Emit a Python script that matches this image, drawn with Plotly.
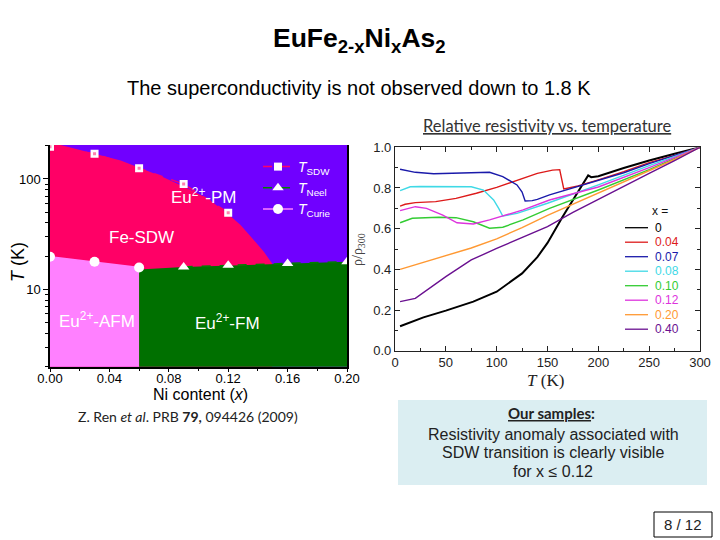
import math
import plotly.graph_objects as go

# ---------------- Phase diagram data (Z. Ren et al.) ----------------
x_sdw = [0.00, 0.03, 0.06, 0.09, 0.12]
t_sdw = [196, 169, 125, 90, 49.5]
x_neel = [0.09, 0.12, 0.16, 0.20]
t_neel = [16.0, 16.6, 17.2, 17.8]
x_curie = [0.00, 0.03, 0.06]
t_curie = [19.8, 17.8, 15.8]

# SDW phase boundary
x_sdw_edge = [0.0, 0.0161, 0.0341, 0.0476, 0.0610, 0.0745, 0.0902, 0.1059, 0.1193, 0.1283, 0.1372, 0.1440, 0.1496]
t_sdw_edge = [215, 190, 165, 147, 125, 106.5, 85.2, 66.8, 48.9, 38.3, 28.0, 21.9, 17.2]
# FM / AFM boundary
x_fm_edge = [0.06, 0.09, 0.12, 0.16, 0.20]
t_fm_edge = [15.2, 16.0, 16.6, 17.2, 17.8]

X_LIM = [0.0, 0.20]
T_LIM = [2.0, 203.0]

# ---------------- Resistivity data ----------------
series_labels = ["0", "0.04", "0.07", "0.08", "0.10", "0.12", "0.20", "0.40"]
series_colors = ["#000000", "#dd1a1a", "#1a1aaa", "#3fd9e6", "#33cc33", "#dd33dd", "#ff9933", "#6a1090"]

T_0 = [5, 18, 28, 50, 77, 100, 125, 140, 150, 165, 180, 190, 193, 200, 225, 250, 275, 300]
r_0 = [0.12, 0.146, 0.164, 0.197, 0.241, 0.29, 0.38, 0.46, 0.53, 0.66, 0.78, 0.862, 0.853, 0.858, 0.898, 0.935, 0.968, 1.0]

T_004 = [5, 10, 20, 30, 40, 60, 80, 100, 120, 140, 155, 160, 162, 166, 180, 200, 225, 250, 275, 300]
r_004 = [0.711, 0.72, 0.728, 0.73, 0.733, 0.749, 0.774, 0.803, 0.839, 0.872, 0.888, 0.892, 0.89, 0.795, 0.81, 0.84, 0.88, 0.925, 0.96, 1.0]

T_007 = [5, 20, 38, 60, 93, 106, 112, 120, 125, 128, 135, 140, 152, 165, 200, 225, 250, 275, 300]
r_007 = [0.892, 0.877, 0.870, 0.874, 0.877, 0.856, 0.84, 0.815, 0.78, 0.736, 0.738, 0.744, 0.766, 0.785, 0.835, 0.875, 0.92, 0.96, 1.0]

T_008 = [5, 15, 25, 40, 60, 75, 87, 97, 102, 106, 120, 150, 200, 250, 300]
r_008 = [0.787, 0.806, 0.807, 0.807, 0.807, 0.806, 0.79, 0.741, 0.70, 0.662, 0.675, 0.725, 0.815, 0.91, 1.0]

T_010 = [5, 17, 43, 60, 77, 93, 106, 126, 152, 200, 250, 300]
r_010 = [0.629, 0.651, 0.656, 0.654, 0.634, 0.602, 0.607, 0.643, 0.70, 0.79, 0.89, 1.0]

T_012 = [5, 20, 31, 47, 61, 77, 93, 126, 152, 200, 250, 300]
r_012 = [0.689, 0.708, 0.70, 0.667, 0.629, 0.623, 0.643, 0.692, 0.741, 0.805, 0.90, 1.0]

T_020 = [5, 25, 50, 75, 100, 125, 150, 175, 200, 225, 250, 275, 300]
r_020 = [0.40, 0.43, 0.465, 0.505, 0.55, 0.605, 0.665, 0.72, 0.775, 0.83, 0.885, 0.94, 1.0]

T_040 = [5, 20, 50, 75, 100, 125, 150, 175, 200, 225, 250, 275, 300]
r_040 = [0.241, 0.257, 0.364, 0.446, 0.503, 0.556, 0.61, 0.68, 0.745, 0.81, 0.872, 0.935, 1.0]

T_series = [T_0, T_004, T_007, T_008, T_010, T_012, T_020, T_040]
r_series = [r_0, r_004, r_007, r_008, r_010, r_012, r_020, r_040]

PURPLE = "#7000ff"
PINK = "#ff0066"
LPINK = "#ff80ff"
GREEN = "#007000"

W, H = 720, 540


def px(v):
    return v / W


def py(v):
    return 1 - v / H


fig = go.Figure()

# ----- phase regions -----
T_LOW = T_LIM[0] * 0.8
T_HIGH = T_LIM[1] * 1.1
fig.add_trace(go.Scatter(
    x=[X_LIM[0], X_LIM[1], X_LIM[1], X_LIM[0], X_LIM[0]],
    y=[T_LOW, T_LOW, T_HIGH, T_HIGH, T_LOW],
    fill="toself", fillcolor=PURPLE, line=dict(width=0), mode="lines",
    hoverinfo="skip", showlegend=False, xaxis="x", yaxis="y"))
fig.add_trace(go.Scatter(
    x=x_sdw_edge + [x_sdw_edge[-1], X_LIM[0]],
    y=t_sdw_edge + [T_LOW, T_LOW],
    fill="toself", fillcolor=PINK, line=dict(width=0), mode="lines",
    hoverinfo="skip", showlegend=False, xaxis="x", yaxis="y"))
fig.add_trace(go.Scatter(
    x=[X_LIM[0], x_curie[-1]] + x_curie[::-1],
    y=[T_LOW, T_LOW] + t_curie[::-1],
    fill="toself", fillcolor=LPINK, line=dict(width=0), mode="lines",
    hoverinfo="skip", showlegend=False, xaxis="x", yaxis="y"))
fig.add_trace(go.Scatter(
    x=[x_fm_edge[0], X_LIM[1]] + x_fm_edge[::-1],
    y=[T_LOW, T_LOW] + t_fm_edge[::-1],
    fill="toself", fillcolor=GREEN, line=dict(width=0), mode="lines",
    hoverinfo="skip", showlegend=False, xaxis="x", yaxis="y"))

# ----- transition points -----
fig.add_trace(go.Scatter(
    x=x_sdw, y=t_sdw, mode="lines+markers", name="<i>T</i><sub>SDW</sub>",
    line=dict(color=PINK, width=1.5, dash="dash"),
    marker=dict(symbol="square", size=8, color="white", line=dict(color="white", width=0)),
    xaxis="x", yaxis="y", legend="legend"))
fig.add_trace(go.Scatter(
    x=x_neel, y=t_neel, mode="lines+markers", name="<i>T</i><sub>Neel</sub>",
    line=dict(color="#008000", width=1.5, dash="dash"),
    marker=dict(symbol="triangle-up", size=10, color="white"),
    xaxis="x", yaxis="y", legend="legend"))
fig.add_trace(go.Scatter(
    x=x_curie, y=t_curie, mode="lines+markers", name="<i>T</i><sub>Curie</sub>",
    line=dict(color=LPINK, width=1.5),
    marker=dict(symbol="circle", size=10, color="white"),
    xaxis="x", yaxis="y", legend="legend"))
fig.add_trace(go.Scatter(
    x=x_sdw, y=t_sdw, mode="markers", marker=dict(symbol="square", size=3, color="#ff7fb0"),
    showlegend=False, hoverinfo="skip", xaxis="x", yaxis="y"))

# ----- resistivity curves -----
for lab, col, Ts, rs in zip(series_labels, series_colors, T_series, r_series):
    fig.add_trace(go.Scatter(
        x=Ts, y=rs, mode="lines", name=lab,
        line=dict(color=col, width=1.4 if lab != "0" else 2.0),
        showlegend=False, xaxis="x2", yaxis="y2"))

# ----- manual legend for resistivity panel -----
shapes = []
annotations = []
leg_x0, leg_x1, leg_tx = 625, 648, 653
for i, (lab, col) in enumerate(zip(series_labels, series_colors)):
    yy = 227.7 + 14.5 * i
    shapes.append(dict(type="line", xref="paper", yref="paper",
                       x0=px(leg_x0), x1=px(leg_x1), y0=py(yy), y1=py(yy),
                       line=dict(color=col, width=1.3)))
    annotations.append(dict(text=lab, x=px(leg_tx), y=py(yy), xref="paper", yref="paper",
                            xanchor="left", yanchor="middle", showarrow=False,
                            font=dict(family="Liberation Sans", size=12, color=col)))
annotations.append(dict(text="x =", x=px(650), y=py(211), xref="paper", yref="paper",
                        xanchor="left", yanchor="middle", showarrow=False,
                        font=dict(family="Liberation Sans", size=12, color="#111")))

# ----- boxes -----
shapes.append(dict(type="rect", xref="paper", yref="paper", x0=px(398), x1=px(707),
                   y0=py(485), y1=py(400), fillcolor="#dbeef2", line=dict(width=0), layer="below"))
shapes.append(dict(type="rect", xref="paper", yref="paper", x0=px(654), x1=px(712),
                   y0=py(537), y1=py(512), fillcolor="white", line=dict(color="black", width=1)))


def ann(text, x, y, size, family="Liberation Sans", color="black", xanchor="center", angle=0):
    annotations.append(dict(text=text, x=px(x), y=py(y), xref="paper", yref="paper",
                            xanchor=xanchor, yanchor="middle", showarrow=False, textangle=angle,
                            font=dict(family=family, size=size, color=color)))


ann("<b>EuFe<sub>2-x</sub>Ni<sub>x</sub>As<sub>2</sub></b>", 359, 40, 26.5)
ann("The superconductivity is not observed down to 1.8 K", 359, 88, 20)
ann("<u>Relative resistivity vs. temperature</u>", 547, 126, 16.5, family="Lato", color="#333")
ann("Z. Ren <i>et al</i>. PRB <b>79,</b> 094426 (2009)", 188, 416, 14, family="Lato", color="#222")
ann("<b><u>Our samples</u>:</b>", 551, 413, 15, family="Lato", color="#222")
ann("Resistivity anomaly associated with", 553, 434, 16, color="#222")
ann("SDW transition is clearly visible", 553, 452.5, 16, color="#222")
ann("for x ≤ 0.12", 553, 471, 16, color="#222")
ann("8 / 12", 683, 524.5, 15, color="#222")

# axis titles
ann("Ni content (<i>x</i>)", 200, 394, 16)
ann("<i>T</i> (K)", 18, 262, 18, angle=-90)
ann("<i>T</i> (K)", 545, 380, 17, family="Liberation Serif", color="#222")
ann("ρ/ρ<sub>300</sub>", 358, 250, 14, family="Liberation Serif", color="#444", angle=-90)

# region labels
ann("Eu<sup>2+</sup>-PM", 204, 196, 17, color="white")
ann("Fe-SDW", 141, 237, 17, color="white")
ann("Eu<sup>2+</sup>-AFM", 97, 320, 17, color="white")
ann("Eu<sup>2+</sup>-FM", 227, 322, 17, color="white")

minor_log = [2, 3, 4, 5, 6, 7, 8, 9, 20, 30, 40, 50, 60, 70, 80, 90, 200]

fig.update_layout(
    template="none",
    width=W, height=H, autosize=False,
    margin=dict(l=0, r=0, t=0, b=0, pad=0, autoexpand=False),
    paper_bgcolor="white", plot_bgcolor="white",
    font=dict(family="Liberation Sans", color="black"),
    shapes=shapes, annotations=annotations,
    legend=dict(x=px(258), y=py(151), xanchor="left", yanchor="top",
                bgcolor="rgba(0,0,0,0)", borderwidth=0, font=dict(color="white", size=14),
                tracegroupgap=0, itemwidth=30),
    xaxis=dict(domain=[px(50), px(347)], range=X_LIM, anchor="y", automargin=False,
               tickvals=[0, 0.04, 0.08, 0.12, 0.16, 0.20],
               ticktext=["0.00", "0.04", "0.08", "0.12", "0.16", "0.20"],
               ticks="outside", ticklen=4, tickcolor="black", ticklabelstandoff=-5,
               minor=dict(tickvals=[0.02, 0.06, 0.10, 0.14, 0.18], ticks="outside", ticklen=3, tickcolor="black"),
               showline=True, linecolor="black", linewidth=1.5, showgrid=False, zeroline=False,
               tickfont=dict(size=13, color="black")),
    yaxis=dict(domain=[py(366.7), py(145)], type="log", automargin=False,
               range=[math.log10(T_LIM[0]), math.log10(T_LIM[1])], anchor="x",
               tickvals=[10, 100], ticktext=["10", "100"],
               ticks="outside", ticklen=5, tickcolor="black",
               minor=dict(tickvals=minor_log, ticks="outside", ticklen=3, tickcolor="black"),
               showline=True, linecolor="black", linewidth=1.5, mirror=True,
               showgrid=False, zeroline=False, tickfont=dict(size=13, color="black")),
    xaxis2=dict(domain=[px(395), px(700)], range=[0, 300], anchor="y2", automargin=False,
                tickvals=[0, 50, 100, 150, 200, 250, 300],
                ticks="inside", ticklen=5, tickcolor="#222", mirror="ticks",
                minor=dict(tickvals=[25, 75, 125, 175, 225, 275], ticks="inside", ticklen=3, tickcolor="#222"),
                showline=True, linecolor="#222", linewidth=1.2, showgrid=False, zeroline=False,
                tickfont=dict(size=13, color="#222")),
    yaxis2=dict(domain=[py(350.7), py(147.3)], range=[0, 1.0], anchor="x2", automargin=False,
                tickvals=[0, 0.2, 0.4, 0.6, 0.8, 1.0],
                ticktext=["0.0", "0.2", "0.4", "0.6", "0.8", "1.0"],
                ticks="inside", ticklen=5, tickcolor="#222", mirror="ticks",
                minor=dict(tickvals=[0.1, 0.3, 0.5, 0.7, 0.9], ticks="inside", ticklen=3, tickcolor="#222"),
                showline=True, linecolor="#222", linewidth=1.2, showgrid=False, zeroline=False,
                tickfont=dict(size=13, color="#222")),
)

fig.write_html("out.html", config={"displayModeBar": False},
               post_script="document.body.style.margin='0';document.body.style.overflow='hidden';")
